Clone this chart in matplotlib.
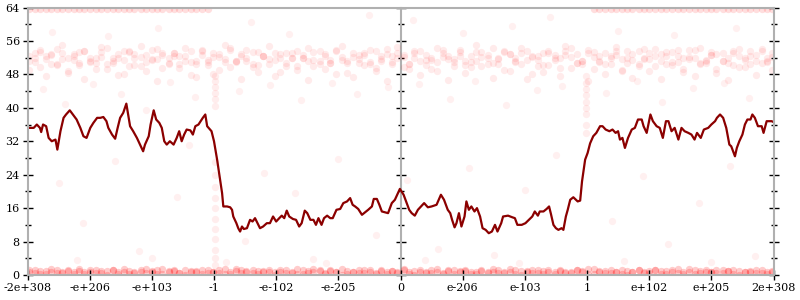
import matplotlib.pyplot as plt
import numpy as np

plt.rcParams['font.family'] = 'DejaVu Serif'

tick_labels = ["-2e+308", "-e+206", "-e+103", "-1", "-e-102", "-e-205", "0",
               "e-206", "e-103", "1", "e+102", "e+205", "2e+308"]

# running mean: (position on ordered-float axis, value)
trend = [
    (0.00, 35.2), (0.10, 35.2), (0.15, 36.0), (0.20, 35.2), (0.22, 34.2), (0.25, 36.0),
    (0.30, 35.6), (0.34, 32.8), (0.39, 32.0), (0.45, 32.4), (0.48, 30.0), (0.53, 34.4),
    (0.58, 37.6), (0.62, 38.4), (0.68, 39.4), (0.73, 38.4), (0.79, 37.2), (0.85, 35.2),
    (0.90, 33.2), (0.95, 32.8), (1.01, 35.2), (1.06, 36.4), (1.12, 37.6), (1.17, 37.6),
    (1.22, 37.8), (1.27, 36.8), (1.30, 35.2), (1.36, 33.6), (1.41, 32.6), (1.45, 35.2),
    (1.49, 37.6), (1.54, 38.8), (1.59, 41.0), (1.61, 39.2), (1.65, 35.6), (1.70, 34.4),
    (1.76, 32.8), (1.81, 31.2), (1.86, 29.6), (1.89, 31.2), (1.95, 33.2), (1.98, 36.0),
    (2.03, 39.4), (2.07, 37.2), (2.12, 36.4), (2.16, 35.2), (2.20, 32.0), (2.24, 31.2),
    (2.29, 32.0), (2.35, 31.2), (2.40, 32.8), (2.44, 34.4), (2.48, 32.0), (2.52, 33.6),
    (2.56, 34.8), (2.62, 34.6), (2.66, 33.6), (2.70, 35.6), (2.75, 36.0), (2.82, 37.6),
    (2.86, 38.4), (2.89, 35.6), (2.96, 34.4), (3.00, 32.0), (3.05, 27.6), (3.09, 23.6),
    (3.13, 19.6), (3.15, 16.4), (3.21, 16.4), (3.26, 16.2), (3.29, 15.6), (3.31, 14.0),
    (3.36, 12.4), (3.39, 11.2), (3.42, 10.4), (3.45, 11.6), (3.48, 11.0), (3.53, 11.2),
    (3.58, 13.2), (3.62, 12.8), (3.66, 13.6), (3.70, 12.4), (3.74, 11.2), (3.79, 11.6),
    (3.85, 12.4), (3.90, 12.4), (3.95, 14.0), (4.00, 12.8), (4.05, 13.6), (4.09, 14.2),
    (4.13, 13.6), (4.17, 15.4), (4.21, 14.0), (4.27, 13.4), (4.32, 13.2), (4.37, 11.6),
    (4.41, 12.4), (4.46, 15.4), (4.50, 14.8), (4.55, 13.2), (4.60, 13.2), (4.64, 12.0),
    (4.68, 13.6), (4.73, 12.0), (4.77, 13.6), (4.82, 14.2), (4.87, 13.6), (4.91, 13.6),
    (4.97, 15.6), (5.03, 15.8), (5.08, 17.2), (5.14, 17.6), (5.19, 18.4), (5.23, 16.8),
    (5.27, 16.4), (5.32, 15.8), (5.38, 14.4), (5.43, 15.0), (5.48, 15.6), (5.54, 16.4),
    (5.57, 18.2), (5.62, 18.2), (5.66, 16.8), (5.70, 15.2), (5.75, 15.0), (5.80, 14.8),
    (5.86, 17.2), (5.91, 18.0), (5.96, 19.6), (5.99, 20.6), (6.05, 19.2), (6.10, 17.2),
    (6.14, 15.6), (6.18, 14.8), (6.23, 14.2), (6.28, 15.6), (6.33, 16.4), (6.38, 17.2),
    (6.44, 16.2), (6.50, 16.4), (6.58, 16.8), (6.65, 19.2), (6.70, 18.0), (6.76, 15.6),
    (6.80, 14.8), (6.83, 13.2), (6.87, 11.4), (6.90, 12.4), (6.94, 14.8), (6.98, 11.6),
    (7.03, 14.0), (7.06, 17.6), (7.10, 15.6), (7.14, 16.4), (7.19, 15.2), (7.23, 16.0),
    (7.28, 14.0), (7.32, 11.2), (7.37, 10.8), (7.42, 10.0), (7.47, 10.4), (7.52, 12.0),
    (7.56, 10.4), (7.62, 12.4), (7.65, 14.0), (7.73, 14.2), (7.80, 13.8), (7.84, 13.6),
    (7.88, 12.0), (7.95, 12.0), (8.01, 12.4), (8.08, 13.4), (8.12, 14.0), (8.16, 15.2),
    (8.21, 14.2), (8.24, 15.2), (8.30, 15.2), (8.35, 15.8), (8.39, 16.4), (8.42, 14.6),
    (8.46, 12.0), (8.50, 11.2), (8.54, 10.8), (8.59, 11.2), (8.62, 10.8), (8.66, 14.0),
    (8.69, 15.6), (8.73, 18.0), (8.78, 18.6), (8.85, 17.6), (8.89, 17.8), (8.92, 22.4),
    (8.97, 27.6), (9.01, 29.2), (9.05, 31.5), (9.10, 33.2), (9.15, 34.0), (9.21, 35.6),
    (9.25, 35.6), (9.30, 34.8), (9.36, 34.4), (9.41, 34.8), (9.46, 34.0), (9.50, 34.4),
    (9.53, 32.4), (9.57, 32.8), (9.61, 30.4), (9.66, 32.8), (9.72, 34.8), (9.77, 35.2),
    (9.82, 37.2), (9.88, 37.2), (9.91, 35.6), (9.96, 34.0), (10.02, 38.4), (10.06, 36.8),
    (10.12, 35.6), (10.17, 35.2), (10.22, 32.8), (10.27, 36.8), (10.31, 36.8), (10.36, 34.4),
    (10.41, 35.2), (10.47, 32.4), (10.52, 35.2), (10.57, 34.4), (10.63, 34.0), (10.68, 33.6),
    (10.73, 32.4), (10.77, 34.0), (10.83, 32.8), (10.88, 34.8), (10.95, 35.2), (11.00, 36.0),
    (11.06, 36.8), (11.09, 37.6), (11.14, 38.4), (11.19, 37.6), (11.24, 35.2), (11.29, 31.2),
    (11.32, 30.8), (11.38, 28.4), (11.41, 30.4), (11.45, 32.0), (11.50, 33.6), (11.54, 36.0),
    (11.58, 37.2), (11.63, 37.2), (11.66, 38.4), (11.70, 37.6), (11.75, 35.6), (11.81, 35.6),
    (11.84, 34.0), (11.89, 36.8), (11.97, 36.8), (12.00, 36.6),
]

# sample positions shared by the dense bands
sample_pos = [
    0.03, 0.12, 0.2, 0.29, 0.38, 0.47, 0.55, 0.65, 0.74, 0.83,
    0.91, 1.01, 1.1, 1.18, 1.28, 1.37, 1.45, 1.55, 1.64, 1.72,
    1.82, 1.9, 2.0, 2.09, 2.17, 2.27, 2.36, 2.44, 2.54, 2.63,
    2.71, 2.81, 2.9, 2.98, 3.08, 3.17, 3.25, 3.35, 3.44, 3.52,
    3.62, 3.71, 3.79, 3.89, 3.98, 4.06, 4.16, 4.25, 4.33, 4.43,
    4.52, 4.6, 4.7, 4.79, 4.87, 4.97, 5.06, 5.14, 5.24, 5.33,
    5.41, 5.51, 5.6, 5.68, 5.78, 5.87, 5.95, 6.05, 6.14, 6.22,
    6.32, 6.41, 6.49, 6.59, 6.68, 6.76, 6.86, 6.95, 7.03, 7.13,
    7.22, 7.3, 7.4, 7.49, 7.57, 7.67, 7.76, 7.84, 7.94, 8.03,
    8.11, 8.21, 8.3, 8.38, 8.48, 8.57, 8.65, 8.75, 8.84, 8.92,
    9.02, 9.11, 9.19, 9.29, 9.38, 9.46, 9.56, 9.65, 9.73, 9.83,
    9.92, 10.0, 10.1, 10.19, 10.27, 10.37, 10.46, 10.54, 10.64, 10.73,
    10.81, 10.91, 11.0, 11.08, 11.18, 11.27, 11.35, 11.45, 11.54, 11.62,
    11.72, 11.81, 11.89, 11.97,
]

band_a = [
    51.2, 53.0, 49.8, 52.4, 50.6, 54.1, 51.7, 48.9, 52.9, 50.3,
    53.6, 51.0, 49.4, 52.2, 54.4, 50.8, 51.9, 48.2, 53.3, 52.0,
    50.1, 52.7, 51.4, 54.0, 49.6, 51.8, 53.1, 50.5, 52.5, 47.9,
    51.3, 53.8, 50.2, 52.1, 49.1, 51.6, 54.2, 50.9, 52.8, 51.1,
    49.7, 53.4, 52.3, 50.4, 51.5, 48.6, 53.0, 51.9, 50.0, 52.6,
    54.3, 49.9, 51.2, 52.9, 50.7, 53.5, 51.4, 48.4, 52.2, 50.8,
    53.2, 51.0, 49.5, 52.4, 54.0, 50.6, 51.8, 52.7, 49.2, 53.6,
    51.3, 50.3, 52.0, 48.8, 53.9, 51.6, 50.1, 52.5, 51.1, 49.8,
    53.3, 52.1, 50.5, 54.2, 51.7, 49.0, 52.8, 50.9, 53.1, 51.5,
    48.1, 52.3, 50.2, 53.7, 51.9, 49.6, 52.6, 54.4, 50.7, 51.2,
    53.0, 49.3, 52.4, 50.4, 51.8, 53.5, 48.7, 52.0, 51.4, 50.0,
    54.1, 51.6, 49.9, 52.9, 50.6, 53.4, 51.0, 48.5, 52.2, 53.8,
    50.8, 51.3, 52.7, 49.4, 53.2, 51.9, 50.3, 54.0, 49.7, 52.5,
    51.1, 53.6, 50.9, 52.1,
]

band_b = [
    49.0, 51.8, 53.9, 47.6, 52.6, 50.2, 55.0, 48.4, 51.4, 53.3,
    46.8, 52.0, 50.7, 54.6, 49.3, 51.1, 47.9, 53.7, 50.0, 52.9,
    54.8, 48.8, 51.6, 46.5, 53.0, 50.4, 52.3, 49.6, 54.4, 51.0,
    47.3, 53.5, 50.9, 48.1, 52.8, 55.1, 49.8, 51.3, 46.9, 53.9,
    50.6, 48.6, 52.4, 54.9, 47.7, 51.9, 50.1, 53.2, 49.1, 52.0,
    46.6, 51.5, 53.6, 49.4, 50.8, 48.0, 54.7, 51.2, 47.4, 52.7,
    50.3, 53.8, 48.9, 51.7, 46.4, 52.5, 54.5, 49.7, 50.5, 53.1,
    47.8, 51.4, 49.2, 54.2, 52.2, 46.7, 50.9, 53.4, 48.3, 51.0,
    55.0, 49.9, 52.6, 47.2, 50.6, 53.7, 48.7, 51.8, 54.3, 46.9,
    52.1, 50.0, 48.5, 53.0, 51.5, 47.5, 54.8, 49.5, 52.9, 50.4,
    46.3, 53.3, 51.1, 48.2, 52.4, 54.6, 49.0, 50.7, 47.1, 53.6,
    51.9, 48.8, 54.0, 46.8, 52.3, 50.2, 53.9, 49.3, 51.6, 47.6,
    54.4, 50.8, 52.7, 48.4, 51.2, 46.6, 53.5, 49.8, 52.0, 50.5,
    47.9, 54.1, 51.3, 49.1,
]

band_c = [
    52.3, 50.9, 53.4, 51.6, 52.8, 50.4, 53.1, 51.9, 52.5, 50.7,
    53.7, 51.2, 52.0, 53.3, 50.6, 51.8, 52.9, 51.4, 53.5, 50.2,
    52.2, 51.0, 53.8, 51.7, 52.6, 50.8, 53.0, 52.4, 51.3, 53.6,
    50.5, 52.7, 51.5, 53.2, 52.1, 50.9, 53.9, 51.1, 52.3, 51.8,
    53.4, 50.3, 52.5, 51.6, 53.0, 52.8, 50.7, 51.9, 53.7, 52.0,
    51.2, 53.3, 50.6, 52.4, 51.5, 53.8, 52.1, 50.8, 53.1, 51.7,
    52.6, 50.4, 53.5, 51.3, 52.9, 51.0, 53.2, 52.2, 50.5, 51.9,
    53.6, 52.7, 51.4, 50.9, 53.0, 52.3, 51.6, 53.9, 50.2, 52.5,
    51.1, 53.4, 52.0, 50.7, 51.8, 53.3, 52.8, 51.2, 50.6, 53.7,
    52.4, 51.5, 53.1, 50.3, 52.6, 51.9, 53.5, 52.2, 50.8, 51.3,
    53.8, 52.1, 51.0, 53.2, 50.5, 52.7, 51.7, 53.6, 52.9, 50.4,
    51.6, 53.0, 52.3, 51.1, 53.4, 50.9, 52.5, 51.8, 53.9, 52.0,
    50.6, 51.4, 53.3, 52.8, 51.2, 50.7, 53.1, 52.4, 51.5, 53.7,
    52.6, 50.8, 51.9, 53.0,
]

floor_a = [
    0.6, 1.1, 0.3, 0.9, 1.4, 0.5, 0.8, 1.2, 0.2, 1.0,
    0.7, 1.3, 0.4, 0.9, 0.1, 1.1, 0.6, 1.5, 0.3, 0.8,
    1.2, 0.5, 1.0, 0.2, 1.4, 0.7, 0.9, 0.4, 1.3, 0.6,
    1.0, 0.3, 1.1, 0.8, 0.5, 1.4, 0.2, 0.9, 1.2, 0.6,
    0.4, 1.0, 0.7, 1.3, 0.1, 0.8, 1.1, 0.5, 1.5, 0.3,
    0.9, 0.6, 1.2, 0.4, 1.0, 0.7, 1.4, 0.2, 0.8, 1.1,
    0.5, 1.3, 0.3, 0.9, 0.6, 1.0, 0.4, 1.2, 0.7, 0.1,
    1.1, 0.8, 0.5, 1.4, 0.3, 0.9, 1.2, 0.6, 1.0, 0.2,
    0.7, 1.3, 0.4, 0.8, 1.1, 0.5, 1.5, 0.3, 0.9, 0.6,
    1.2, 0.4, 1.0, 0.7, 0.2, 1.3, 0.8, 0.5, 1.1, 0.9,
    0.3, 1.4, 0.6, 1.0, 0.4, 0.8, 1.2, 0.1, 0.7, 1.1,
    0.5, 0.9, 1.3, 0.3, 1.0, 0.6, 1.4, 0.2, 0.8, 1.2,
    0.4, 1.1, 0.7, 0.5, 1.3, 0.9, 0.3, 1.0, 0.6, 0.8,
    1.2, 0.4, 0.7, 1.0,
]

floor_b = [
    1.3, 0.4, 0.9, 0.2, 0.7, 1.2, 0.5, 1.0, 0.8, 1.4,
    0.3, 0.6, 1.1, 0.5, 0.9, 1.3, 0.2, 0.7, 1.0, 0.4,
    0.8, 1.5, 0.6, 1.1, 0.3, 0.9, 1.2, 0.5, 0.1, 1.0,
    0.7, 1.3, 0.4, 0.8, 1.1, 0.2, 0.6, 1.4, 0.5, 0.9,
    1.2, 0.3, 1.0, 0.6, 0.8, 1.3, 0.4, 0.7, 0.2, 1.1,
    0.5, 1.4, 0.9, 0.3, 1.2, 0.6, 0.1, 1.0, 0.7, 0.4,
    1.3, 0.8, 0.5, 1.1, 0.2, 0.9, 0.6, 1.4, 0.3, 1.0,
    0.7, 0.4, 1.2, 0.8, 0.5, 1.1, 0.3, 0.9, 1.3, 0.6,
    0.2, 1.0, 0.7, 1.4, 0.4, 0.8, 0.6, 1.2, 0.1, 0.9,
    0.5, 1.1, 0.3, 1.3, 0.7, 1.0, 0.4, 0.8, 1.2, 0.6,
    1.4, 0.2, 0.9, 0.5, 1.1, 0.7, 0.3, 1.0, 0.8, 1.3,
    0.6, 0.4, 1.2, 0.9, 0.2, 1.1, 0.5, 0.7, 1.4, 0.3,
    1.0, 0.8, 0.6, 1.2, 0.4, 0.9, 1.3, 0.1, 0.7, 1.0,
    0.5, 1.1, 0.3, 0.8,
]

ceiling_value = 63.7

stray = [
    (0.25, 44.5), (0.6, 41.0), (1.05, 45.8), (1.5, 43.2), (1.9, 39.5), (2.3, 46.2),
    (2.7, 42.7), (3.4, 44.0), (3.9, 45.5), (4.4, 41.8), (4.9, 46.0), (5.3, 43.4),
    (5.8, 44.9), (6.3, 45.7), (6.8, 42.1), (7.2, 46.4), (7.7, 40.6), (8.2, 44.3),
    (8.6, 45.1), (9.3, 43.6), (9.8, 46.3), (10.2, 41.5), (10.7, 44.8), (11.2, 45.9),
    (11.6, 42.4), (0.4, 58.1), (1.3, 57.2), (2.1, 59.0), (3.6, 60.5), (4.2, 57.6),
    (5.5, 62.3), (6.2, 61.0), (7.0, 57.8), (7.8, 59.6), (8.4, 61.8), (9.5, 58.4),
    (10.4, 57.5), (11.4, 59.2), (0.5, 22.0), (0.9, 12.5), (1.4, 27.3), (1.8, 5.8),
    (2.4, 18.6), (2.6, 31.0), (3.5, 8.2), (3.8, 24.5), (4.3, 19.7), (4.6, 3.9),
    (5.0, 27.8), (5.6, 9.6), (6.1, 22.8), (6.6, 6.2), (7.1, 25.5), (7.5, 4.7),
    (8.0, 20.3), (8.5, 28.7), (9.4, 12.9), (9.9, 23.6), (10.3, 7.4), (10.8, 17.2),
    (11.3, 26.1), (11.7, 4.5), (0.8, 3.5), (2.0, 4.0), (3.2, 3.2), (4.8, 2.8),
    (6.4, 3.6), (7.9, 2.9), (9.6, 3.4), (11.0, 3.1),
]

streak_neg = [2.5, 4.0, 6.0, 8.5, 11.0, 13.5, 16.0, 18.5, 21.0, 24.0, 27.0,
              40.5, 42.0, 43.5, 45.0, 46.5, 47.5]
streak_pos = [34.0, 36.0, 38.5, 40.0, 41.5, 43.0, 44.5, 46.0, 47.5]


def main():
    pos = np.array(sample_pos)
    outer = (pos < 2.97) | (pos > 9.05)
    tx, ty = zip(*trend)
    sx, sy = zip(*stray)

    fig = plt.figure(figsize=(8, 3), dpi=100)
    rect = [27.5 / 800, 25 / 300, 746 / 800, 267.5 / 300]
    back = fig.add_axes(rect)
    ax = fig.add_axes(rect)

    dot = dict(s=28, color="red", linewidths=0, marker="o")
    ax.scatter(pos, floor_a, alpha=0.2, **dot)
    ax.scatter(pos, floor_b, alpha=0.2, **dot)
    ax.scatter(pos, band_a, alpha=0.08, **dot)
    ax.scatter(pos, band_b, alpha=0.08, **dot)
    ax.scatter(pos, band_c, alpha=0.08, **dot)
    ax.scatter(pos[outer], np.full(outer.sum(), ceiling_value), alpha=0.13, **dot)
    ax.scatter(sx, sy, alpha=0.06, **dot)
    ax.scatter([3.02] * len(streak_neg), streak_neg, alpha=0.07, **dot)
    ax.scatter([8.98] * len(streak_pos), streak_pos, alpha=0.07, **dot)
    ax.plot(tx, ty, color="#8b0000", linewidth=1.6)

    for a in (ax, back):
        a.set_xlim(0, 12)
        a.set_ylim(0, 64)
        a.set_yticks(np.arange(0, 65, 8))
        a.set_yticks(np.arange(0, 65, 4), minor=True)
        a.tick_params(which="major", direction="inout", length=7, width=1,
                      color="black", labelsize=8, pad=2)
        a.tick_params(which="minor", direction="inout", length=4, width=1,
                      color="black")
        for s in a.spines.values():
            s.set_color("#b0b0b0")
            s.set_linewidth(1.5)

    ax.set_xticks(range(13))
    ax.set_xticklabels(tick_labels)
    ax.tick_params(axis="y", which="both", left=True, right=True)
    ax.tick_params(axis="x", which="minor", bottom=False)
    ax.patch.set_visible(False)

    # centre axis at zero
    back.set_xticks([])
    back.tick_params(axis="y", which="both", labelleft=False)
    for name in ("top", "right", "bottom"):
        back.spines[name].set_visible(False)
    back.spines["left"].set_position(("data", 6))
    back.set_zorder(0)
    ax.set_zorder(1)

    fig.savefig("out.png", dpi=100)


if __name__ == "__main__":
    main()
